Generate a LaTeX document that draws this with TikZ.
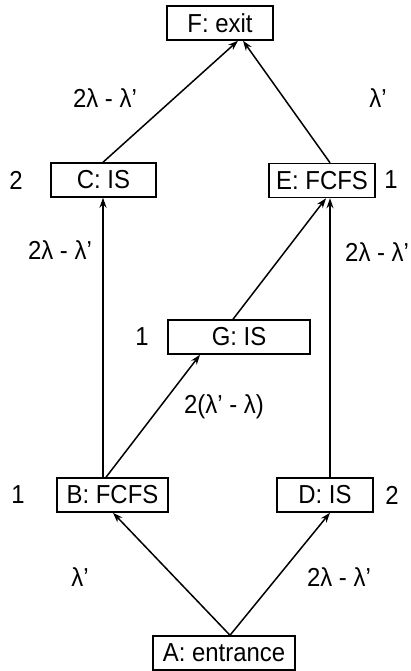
\documentclass[tikz,border=0pt]{standalone}
\usepackage{fontspec}
\setmainfont{Liberation Sans}[FakeStretch=0.92]
\usetikzlibrary{arrows.meta,calc}
\begin{document}
\begin{tikzpicture}[x=1pt,y=-1pt,
 box/.style={draw,line width=1.5pt,minimum height=34pt,inner sep=0pt,font=\fontsize{26}{28}\selectfont},
 lab/.style={font=\fontsize{26}{28}\selectfont,inner sep=0pt},
 arr/.style={line width=1.5pt,-{Stealth[length=10pt,width=7pt]}}]
\useasboundingbox (0,0) rectangle (410,671);
\node[box,minimum width=106pt] (F) at (220,23) {F: exit};
\node[box,minimum width=105pt] (C) at (103.5,180) {C: IS};
\node[box,minimum width=106pt] (E) at (322,180.5) {E: FCFS};
\node[box,minimum width=142pt] (G) at (239,337) {G: IS};
\node[box,minimum width=111pt] (B) at (112.5,495) {B: FCFS};
\node[box,minimum width=96pt] (D) at (325,495) {D: IS};
\node[box,minimum width=142pt] (A) at (224,653) {A: entrance};
\draw[arr] ([xshift=-0.5pt]C.north) -- ([xshift=18pt]F.south);
\draw[arr] ([xshift=8pt]E.north) -- ([xshift=23pt]F.south);
\draw[arr] ([xshift=-9.5pt]B.north) -- ([xshift=-0.5pt]C.south);
\draw[arr] ([xshift=-6.5pt]B.north) -- ([xshift=-39pt]G.south);
\draw[arr] ([xshift=-6pt]G.north) -- ([xshift=4pt]E.south);
\draw[arr] ([xshift=5pt]D.north) -- ([xshift=8pt]E.south);
\draw[arr] ([xshift=6pt]A.north) -- ([xshift=0.5pt]B.south);
\draw[arr] ([xshift=6pt]A.north) -- ([xshift=5pt]D.south);
\node[lab] (l1) at (105,98) {2λ - λ'};
\node[lab] (l2) at (378,98) {λ'};
\node[lab] (nC) at (16,180) {2};
\node[lab] (nE) at (391,180) {1};
\node[lab] (l3) at (60,250) {2λ - λ'};
\node[lab,anchor=west] (l4) at (345,252) {2λ - λ'};
\node[lab] (nG) at (142,337) {1};
\node[lab] (l5) at (224,407) {2(λ' - λ)};
\node[lab] (nB) at (18,495) {1};
\node[lab] (nD) at (392,495) {2};
\node[lab] (l6) at (80,577) {λ'};
\node[lab] (l7) at (339,577) {2λ - λ'};
\end{tikzpicture}
\end{document}
